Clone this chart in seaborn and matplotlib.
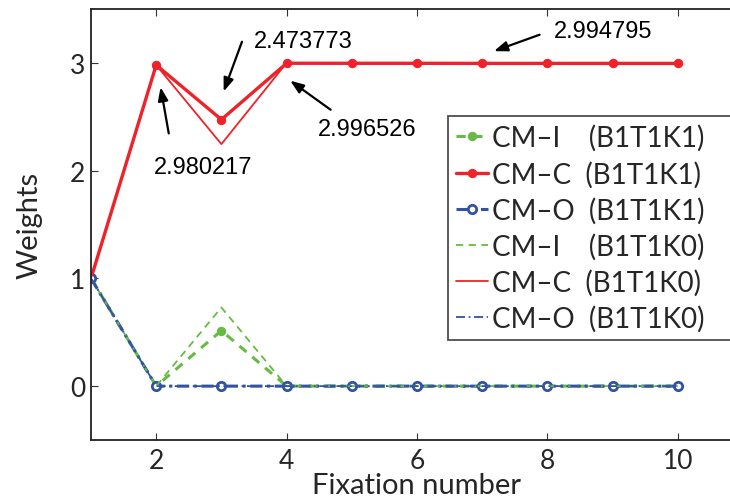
import matplotlib
matplotlib.use("Agg")
import matplotlib.pyplot as plt
import seaborn as sns

# data
fixation = [1, 2, 3, 4, 5, 6, 7, 8, 9, 10]
cmi_k1 = [1, 0, 0.515, 0, 0, 0, 0, 0, 0, 0]
cmc_k1 = [1, 2.980217, 2.473773, 2.996526, 2.996, 2.996, 2.995, 2.995, 2.995, 2.994795]
cmo_k1 = [1, 0, 0, 0, 0, 0, 0, 0, 0, 0]
cmi_k0 = [1, 0, 0.73, 0, 0, 0, 0, 0, 0, 0]
cmc_k0 = [1, 2.98, 2.246, 3, 3, 3, 3, 3, 3, 3]
cmo_k0 = [1, 0, 0, 0, 0, 0, 0, 0, 0, 0]
labels = ["CM\u2013I    (B1T1K1)", "CM\u2013C  (B1T1K1)", "CM\u2013O  (B1T1K1)",
          "CM\u2013I    (B1T1K0)", "CM\u2013C  (B1T1K0)", "CM\u2013O  (B1T1K0)"]

green = "#66bb44"
red = "#ee2228"
blue = "#3352a3"

sns.set_style("ticks")
plt.rcParams['font.family'] = ['Lato', 'DejaVu Sans']

fig = plt.figure(figsize=(7.3, 5.02), dpi=100)
ax = fig.add_axes([91 / 730, 1 - 441 / 502, 652 / 730, 431 / 502])

sns.lineplot(x=fixation, y=cmi_k1, ax=ax, color=green, lw=2.2, linestyle=(0, (3, 2.5)),
             marker="o", markersize=6, markeredgecolor=green, label=labels[0])
sns.lineplot(x=fixation, y=cmc_k1, ax=ax, color=red, lw=2.4, linestyle="-",
             marker="o", markersize=6, markeredgecolor=red, label=labels[1])
sns.lineplot(x=fixation, y=cmo_k1, ax=ax, color=blue, lw=2.2, linestyle=(0, (4, 1.5, 1, 1.5)),
             marker="o", markersize=6, markerfacecolor="white", markeredgecolor=blue,
             markeredgewidth=2, label=labels[2])
sns.lineplot(x=fixation, y=cmi_k0, ax=ax, color=green, lw=1.3, linestyle=(0, (4, 3)),
             label=labels[3])
sns.lineplot(x=fixation, y=cmc_k0, ax=ax, color=red, lw=1.3, linestyle="-",
             label=labels[4])
sns.lineplot(x=fixation, y=cmo_k0, ax=ax, color=blue, lw=1.3, linestyle=(0, (5, 2, 1, 2)),
             label=labels[5])

ax.set_xlim(1, 11)
ax.set_ylim(-0.5, 3.5)
ax.set_xticks([2, 4, 6, 8, 10])
ax.set_yticks([0, 1, 2, 3])
ax.tick_params(direction="in", length=5, width=0.8, labelsize=19, top=True, right=True,
               color="#333333")
ax.tick_params(axis="x", pad=6)
ax.tick_params(axis="y", pad=4)
for s in ax.spines.values():
    s.set_linewidth(1.3)
    s.set_color("#222222")
ax.set_xlabel("Fixation number", fontsize=21, labelpad=-1)
ax.set_ylabel("Weights", fontsize=21, labelpad=20)

# annotations
afont = dict(family="Liberation Sans", fontsize=17, color="black")
arrow = dict(arrowstyle="-|>,head_length=0.8,head_width=0.3", color="black", lw=1.6)
ann = [
    ("2.980217", (2.06, 2.80), (2.20, 2.32), (2.72, 2.03)),
    ("2.473773", (3.02, 2.71), (3.33, 3.22), (4.25, 3.205)),
    ("2.996526", (4.02, 2.85), (4.71, 2.55), (5.23, 2.385)),
    ("2.994795", (7.14, 3.10), (7.92, 3.27), (8.85, 3.30)),
]
for txt, head, tail, pos in ann:
    ax.annotate("", xy=head, xytext=tail, arrowprops=arrow)
    ax.text(pos[0], pos[1], txt, ha="center", va="center", **afont)

# legend box runs past the right edge like the cropped original
ax.legend(loc="upper left", mode="expand",
          bbox_to_anchor=(448 / 730, 1 - 337 / 502, 0.45, 220 / 502),
          bbox_transform=fig.transFigure, fontsize=20, frameon=True, fancybox=False,
          edgecolor="#222222", handlelength=1.15, handletextpad=0.15, labelspacing=0.33,
          borderpad=0.3, borderaxespad=0)
ax.get_legend().get_frame().set_linewidth(1.3)

fig.savefig("out.png", dpi=100)
